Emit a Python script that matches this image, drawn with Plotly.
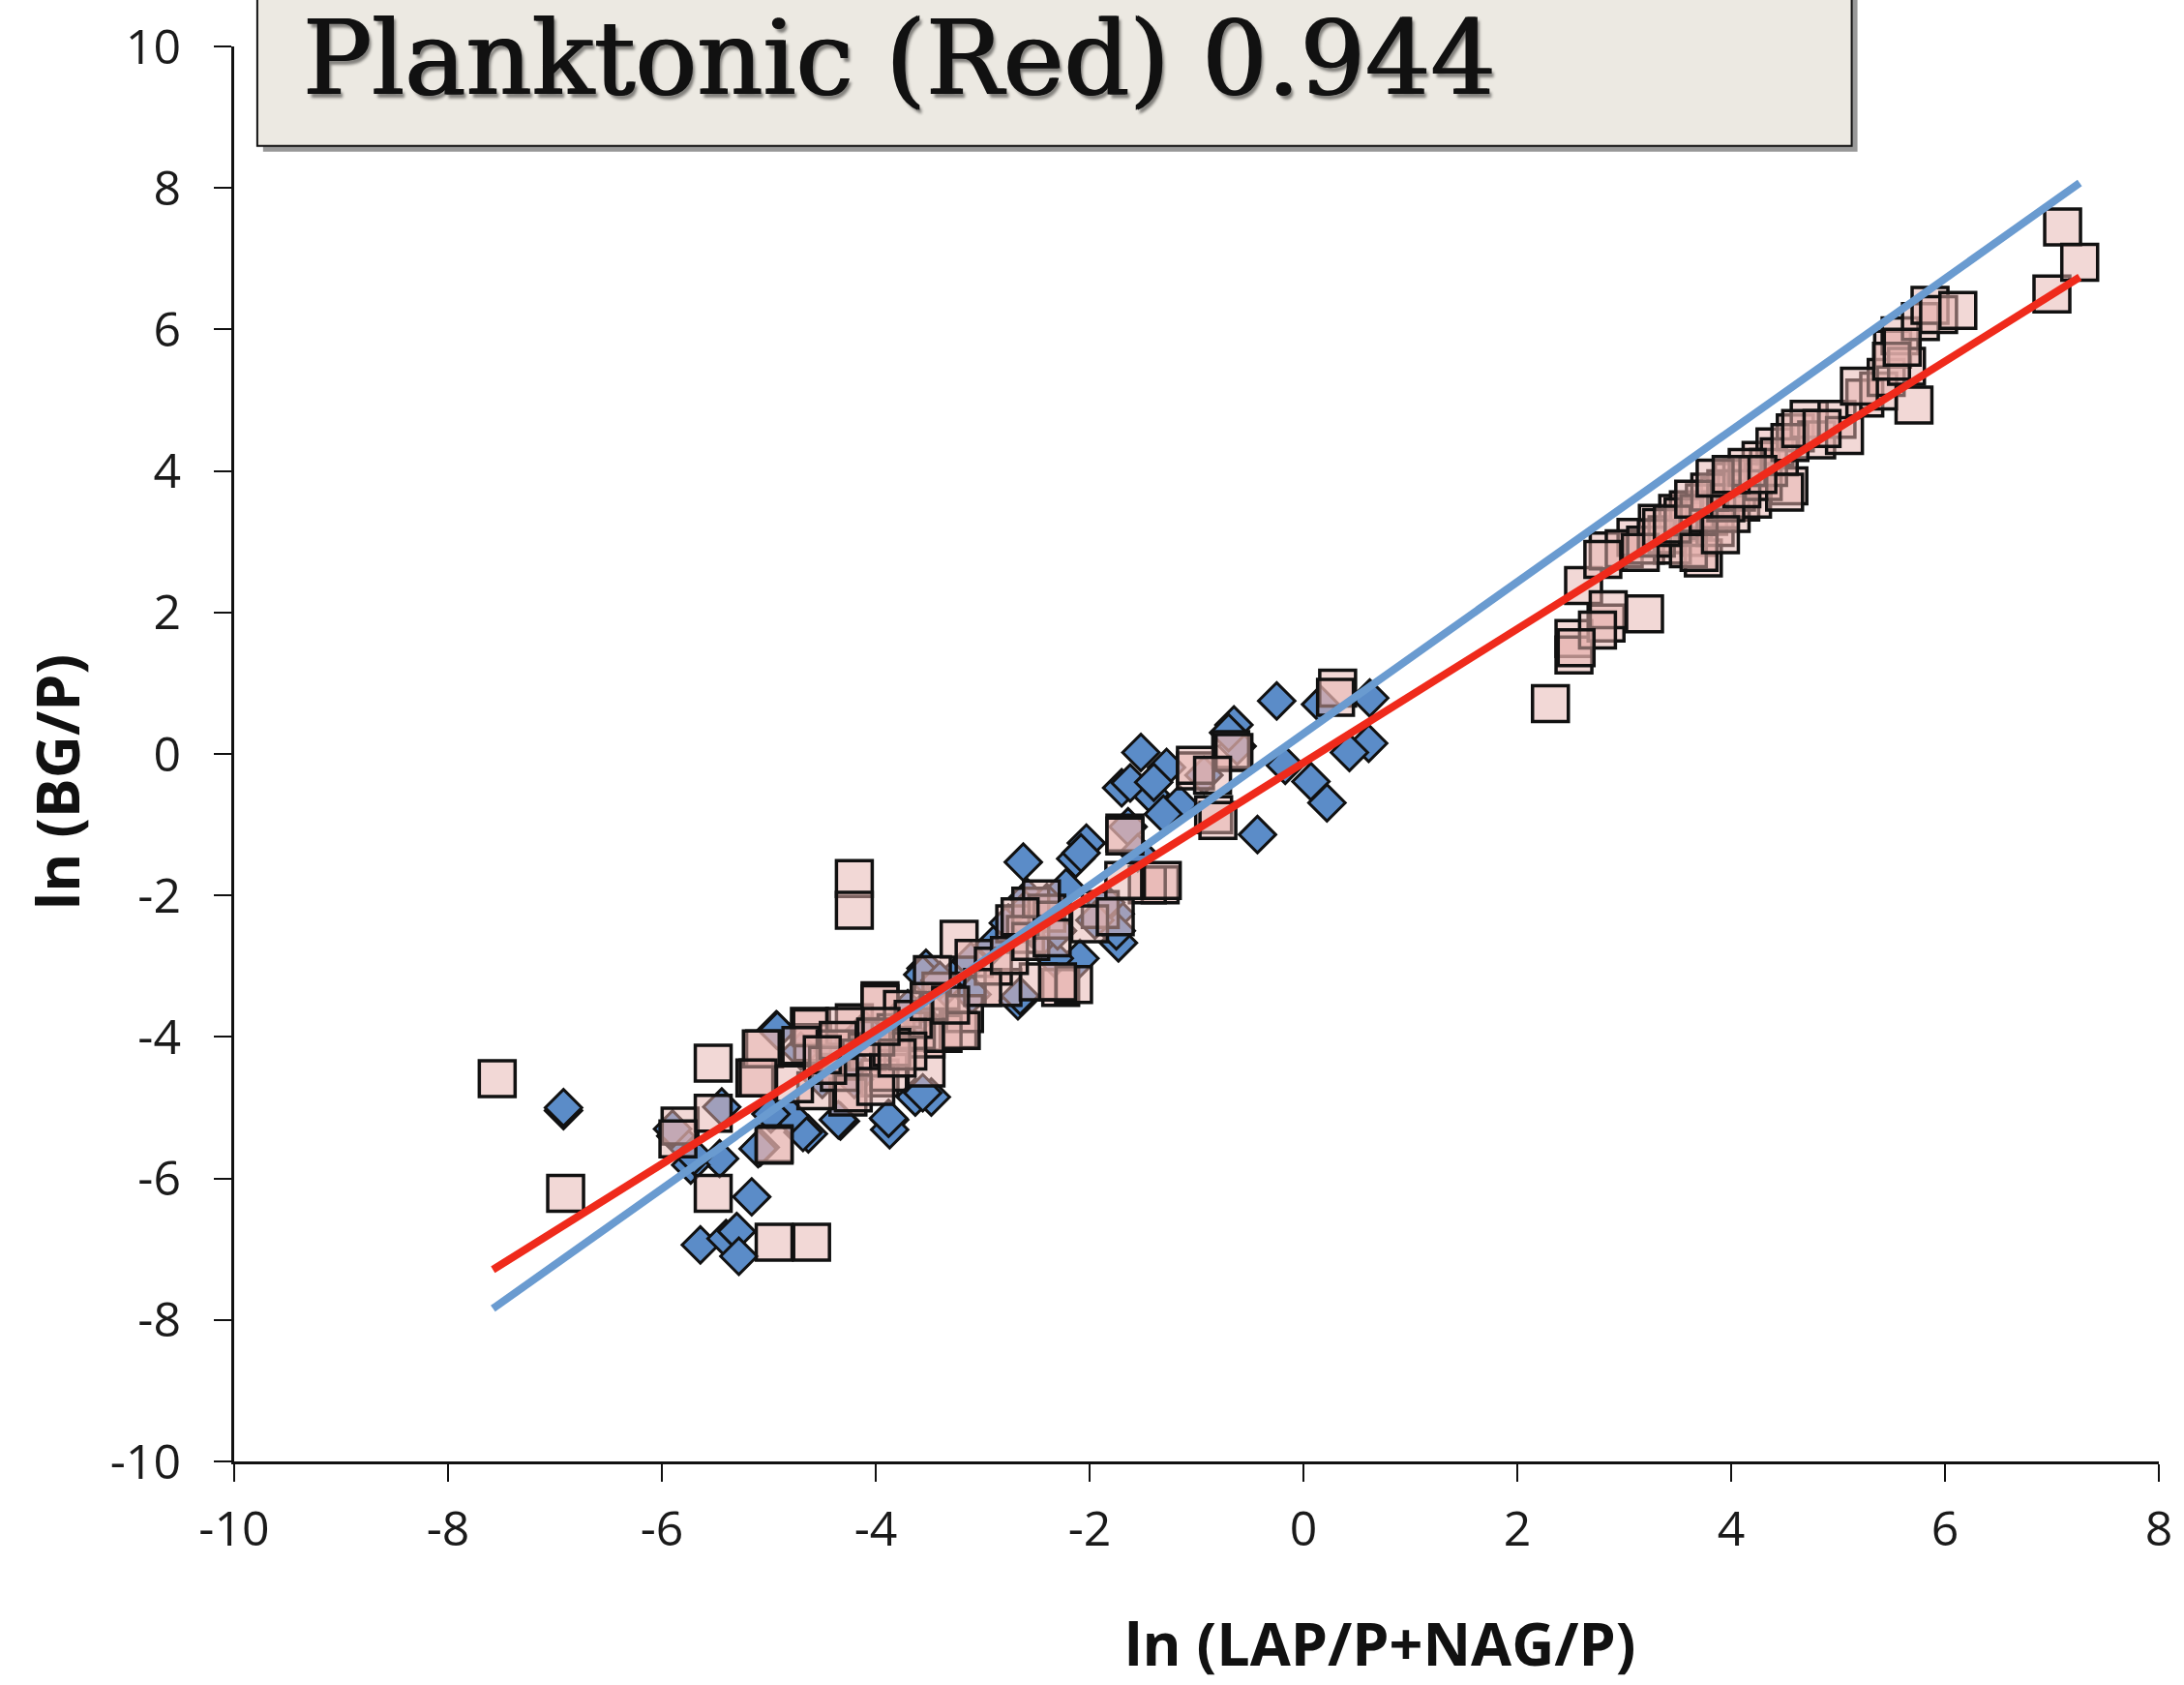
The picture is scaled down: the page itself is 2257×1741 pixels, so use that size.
import plotly.graph_objects as go

# Planktonic (squares) - ln(LAP/P+NAG/P) vs ln(BG/P)
sq_x = [-7.54, -6.90, -5.52, -5.52, -4.95, -4.60, -5.83, -5.52, -4.95, -5.13,
        -5.04, -4.62, -4.59, -4.20, -3.96, -4.20, -4.20, -3.22, -3.08, -3.96,
        -4.60, -4.29, -5.07, -5.10, -3.23, -3.53, -3.96, -4.26, -4.56, -4.95,
        -2.27, -2.15, -2.81, -1.34, -1.46, -3.39, -3.53, -3.17, -4.70, -4.38,
        -4.08, -3.81, -4.14, -3.75, -3.62, -3.47, -3.37, -3.88, -4.34, -4.21,
        -4.76, -5.85, -3.20, -2.48, -2.30, -2.70, -2.55, -2.40, -2.60, -1.90,
        -2.00, -1.68, -1.32, -1.67, -1.01, -0.84, -0.68, -0.65, 0.32, 0.30,
        -1.01, -1.76, -1.67, -2.90, -3.00, -2.75, -3.65, -3.85, -4.45, -4.00,
        -3.70, -2.55, -2.35, -0.80, -0.85,
        -4.35, -4.00, -3.80, -3.50, -3.30, -4.50, -3.95, -2.45, -2.65, -2.35,
        2.31, 2.53, 2.53, 2.62, 2.83, 2.85, 3.19, 2.85, 3.11, 3.31,
        3.50, 3.70, 3.74, 3.79, 3.89, 4.02, 4.09, 4.18, 4.28, 4.54,
        4.41, 4.60, 4.73, 4.80, 4.99, 5.06, 5.25, 5.38, 5.45, 5.51,
        5.58, 5.64, 5.71, 5.77, 5.86, 5.94, 6.12, 7.00, 7.10, 7.26,
        3.00, 3.20, 3.40, 3.45, 3.55, 3.60, 3.65, 3.75, 3.85, 3.90,
        3.95, 4.00, 4.05, 4.10, 4.20, 4.30, 4.35, 4.45, 4.55, 4.65,
        4.50, 4.85, 5.20, 5.50, 5.60, 3.30, 3.15, 3.60, 2.80, 2.75, 2.55,
        3.35, 3.55, 3.70, 3.80, 3.95, 4.10, 4.15, 4.25, 3.45, 3.65,
        3.85, 4.00, 3.70, 3.90]
sq_y = [-4.59, -6.21, -4.37, -6.21, -6.90, -6.90, -5.26, -5.08, -5.51, -4.58,
        -4.17, -3.85, -4.08, -3.80, -3.49, -1.76, -2.21, -2.62, -2.89, -3.53,
        -3.87, -3.85, -4.17, -4.58, -3.90, -4.44, -4.58, -4.85, -4.76, -5.53,
        -3.30, -3.26, -3.30, -1.85, -1.85, -3.35, -4.03, -3.67, -4.12, -4.17,
        -4.21, -3.94, -4.30, -3.61, -3.91, -3.12, -3.95, -4.50, -4.50, -4.79,
        -4.66, -5.44, -3.91, -3.22, -3.22, -2.40, -2.15, -2.25, -2.55, -2.20,
        -2.40, -1.79, -1.79, -1.12, -0.24, -0.86, 0.06, 0.02, 0.93, 0.80,
        -0.16, -2.30, -1.16, -3.00, -3.30, -2.85, -3.75, -4.15, -4.40, -4.70,
        -4.20, -2.65, -2.35, -0.94, -0.30,
        -4.05, -4.00, -4.30, -3.50, -3.55, -4.25, -3.85, -2.05, -2.30, -2.60,
        0.71, 1.63, 1.40, 2.38, 1.85, 2.04, 1.98, 2.87, 3.06, 3.26,
        3.40, 3.06, 2.77, 3.36, 3.65, 3.85, 3.56, 3.95, 4.15, 3.79,
        4.34, 4.54, 4.73, 4.44, 4.73, 4.50, 5.03, 5.13, 5.32, 5.72,
        5.91, 5.48, 4.93, 6.11, 6.34, 6.21, 6.27, 6.50, 7.45, 6.95,
        2.90, 2.95, 3.10, 2.95, 3.20, 3.45, 3.30, 3.55, 3.20, 3.45,
        3.75, 3.40, 3.70, 3.90, 3.60, 3.85, 4.05, 4.20, 4.40, 4.60,
        3.70, 4.60, 5.20, 5.55, 5.75, 3.05, 2.85, 2.90, 2.75, 1.75, 1.50,
        3.20, 3.35, 3.40, 3.70, 3.55, 3.75, 4.05, 3.95, 3.25, 3.60,
        3.90, 3.95, 2.85, 3.10]

# Second group (diamonds)
dm_x = [-6.92, -6.92, -5.64, -5.40, -5.30, -5.28, -5.16, -5.87, -5.44, -5.46,
        -5.73, -5.08, -4.63, -4.33, -3.87, -4.93, -2.62, -2.13, -2.58, -2.76,
        -2.22, -1.73, -1.76, -2.09, -2.33, -2.67, -3.53, -4.68, -4.35, -3.48,
        -3.63, -5.10, -3.87, -4.80, -0.25, 0.16, 0.62, 0.61, 0.43, -0.17,
        0.07, 0.22, -0.43, -0.65, -0.62, -1.52, -1.28, -1.70, -1.43, -1.16,
        -1.31, -0.93, -2.03, -1.64, -5.70, -4.98, -4.92, -3.88, -3.56, -3.88,
        -4.27, -3.56, -3.24, -3.11, -2.65, -2.08, -1.75, -1.85, -1.62, -2.50,
        -2.45, -2.30, -2.90, -3.35, -3.10, -1.95, -1.55, -4.70, -4.50, -4.10,
        -3.70, -5.90, -0.70, -1.40,
        -2.60, -2.55, -2.40, -3.40, -3.60, -4.20, -4.40]
dm_y = [-5.04, -5.00, -6.94, -6.85, -6.75, -7.10, -6.26, -5.40, -4.99, -5.72,
        -5.81, -5.56, -5.37, -5.19, -5.17, -3.90, -1.53, -1.48, -2.03, -2.39,
        -1.89, -2.67, -2.26, -2.89, -2.89, -3.49, -3.03, -5.35, -5.17, -4.85,
        -4.85, -5.58, -5.31, -5.12, 0.75, 0.70, 0.79, 0.15, 0.02, -0.16,
        -0.39, -0.69, -1.14, 0.41, 0.11, 0.02, -0.19, -0.48, -0.57, -0.71,
        -0.85, -0.30, -1.26, -1.03, -5.68, -5.09, -3.91, -5.15, -4.79, -4.01,
        -4.30, -3.12, -3.12, -2.93, -3.42, -1.40, -2.50, -2.10, -0.41, -2.30,
        -2.60, -2.50, -2.70, -3.30, -3.40, -2.35, -1.40, -4.20, -4.60, -3.90,
        -3.60, -5.30, 0.30, -0.40,
        -2.20, -2.45, -2.10, -3.20, -3.70, -4.60, -4.20]

# Fitted lines (end points)
fit_x = [-7.58, 7.26]
red_fit_y = [-7.29, 6.74]
blue_fit_y = [-7.84, 8.07]

x_ticks = [-10, -8, -6, -4, -2, 0, 2, 4, 6, 8]
x_tick_labels = ["-10", "-8", "-6", "-4", "-2", "0", "2", "4", "6", "8"]
y_ticks = [-10, -8, -6, -4, -2, 0, 2, 4, 6, 8, 10]
y_tick_labels = ["-10", "-8", "-6", "-4", "-2", "0", "2", "4", "6", "8", "10"]

title_text = "Planktonic (Red) 0.944"

fig = go.Figure()
fig.add_trace(go.Scatter(
    x=dm_x, y=dm_y, mode="markers",
    marker=dict(symbol="diamond", size=29, color="#5B8CC8",
                line=dict(color="#111111", width=3)),
    showlegend=False))
fig.add_trace(go.Scatter(
    x=sq_x, y=sq_y, mode="markers",
    marker=dict(symbol="square", size=37, color="rgba(229,177,173,0.5)",
                line=dict(color="#111111", width=3.5)),
    showlegend=False))
fig.add_trace(go.Scatter(
    x=fit_x, y=blue_fit_y, mode="lines",
    line=dict(color="#6A9BD0", width=8), showlegend=False))
fig.add_trace(go.Scatter(
    x=fit_x, y=red_fit_y, mode="lines",
    line=dict(color="#EF2A1B", width=8), showlegend=False))

W, H = 2257, 1741
L, R, T, B = 242, 16, 45, 231
pw, ph = W - L - R, H - T - B

def px(xp):
    return (xp - L) / pw

def py(yp):
    return (H - B - yp) / ph

tick_font = dict(family="Open Sans", size=50, color="#1a1a1a")
fig.update_layout(
    width=W, height=H,
    margin=dict(l=L, r=R, t=T, b=B),
    paper_bgcolor="white", plot_bgcolor="white",
    xaxis=dict(range=[-10, 8], tickvals=x_ticks, ticktext=x_tick_labels,
               showgrid=False, zeroline=False,
               showline=True, linecolor="#111111", linewidth=3,
               ticks="outside", ticklen=18, tickwidth=2, tickcolor="#111111",
               tickfont=tick_font, ticklabelstandoff=6),
    yaxis=dict(range=[-10, 10], tickvals=y_ticks, ticktext=y_tick_labels,
               showgrid=False, zeroline=False,
               showline=True, linecolor="#111111", linewidth=3,
               ticks="outside", ticklen=18, tickwidth=2, tickcolor="#111111",
               tickfont=tick_font, ticklabelstandoff=24),
    shapes=[
        dict(type="rect", xref="paper", yref="paper",
             x0=px(272), x1=px(1928), y0=py(154), y1=py(-20),
             fillcolor="#555555", line=dict(width=0), layer="above", opacity=0.6),
        dict(type="rect", xref="paper", yref="paper",
             x0=px(266), x1=px(1922), y0=py(148), y1=py(-20),
             fillcolor="#ECE9E2", line=dict(color="#111111", width=2), layer="above"),
    ],
    annotations=[
        dict(text=title_text, xref="paper", yref="paper",
             x=px(310), y=py(121), xanchor="left", yanchor="bottom",
             showarrow=False,
             font=dict(family="DejaVu Serif", size=106, color="#111111",
                       shadow="4px 4px 3px rgba(0,0,0,0.45)")),
        dict(text=title_text, xref="paper", yref="paper",
             x=px(312), y=py(121), xanchor="left", yanchor="bottom",
             showarrow=False,
             font=dict(family="DejaVu Serif", size=106, color="#111111")),
        dict(text="<b>ln (LAP/P+NAG/P)</b>", xref="paper", yref="paper",
             x=px(1432), y=py(1698), xanchor="center", yanchor="middle",
             showarrow=False,
             font=dict(family="Open Sans", size=61, color="#111111")),
        dict(text="<b>ln (BG/P)</b>", xref="paper", yref="paper",
             x=px(58), y=py(806), xanchor="center", yanchor="middle",
             textangle=-90, showarrow=False,
             font=dict(family="Open Sans", size=61, color="#111111")),
    ],
)

fig.write_html("out.html")
